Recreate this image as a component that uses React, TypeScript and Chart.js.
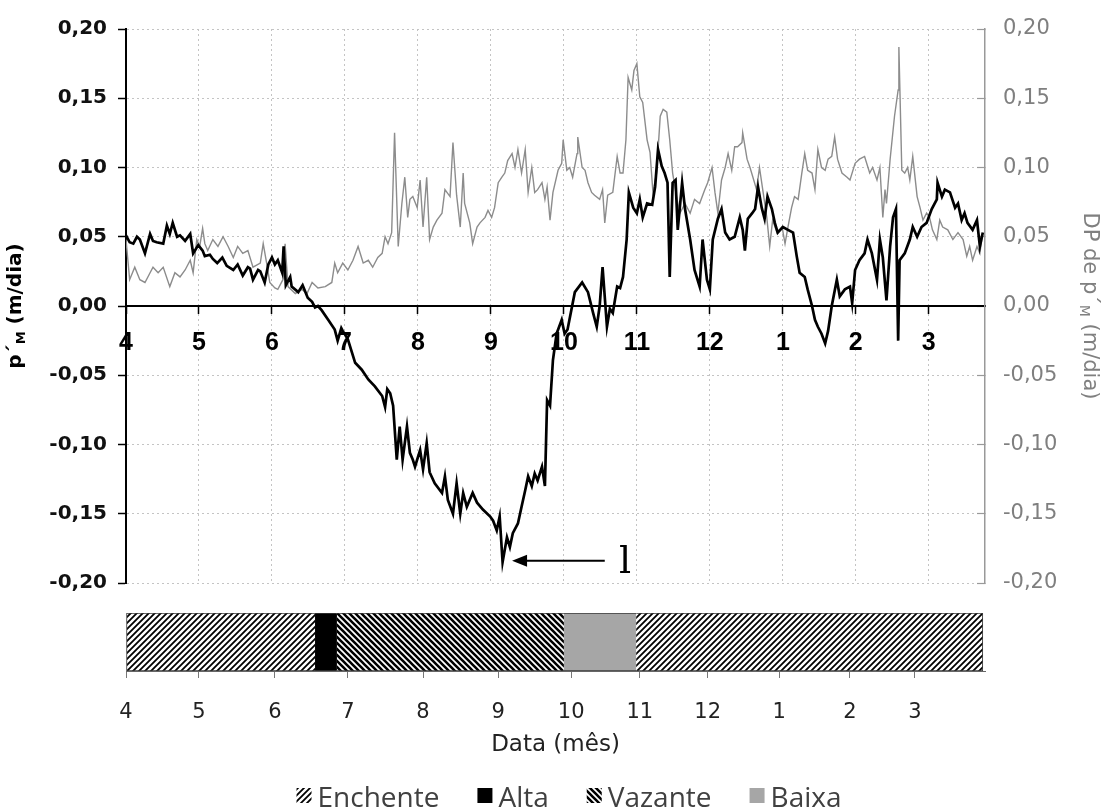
import React, { useEffect, useRef } from 'react';
import { Chart, registerables } from 'chart.js';

Chart.register(...registerables);

// ---------- data ----------
// x = months elapsed since the start of April (0 = "4"), y = m/dia
const monthLabels = ['4', '5', '6', '7', '8', '9', '10', '11', '12', '1', '2', '3'];
const X_MAX = 11.77;

// p'M (black line, left axis)
const pmSeries: [number, number][] = [
  [0.00, 0.051], [0.05, 0.046], [0.10, 0.045], [0.15, 0.050], [0.19, 0.048], [0.26, 0.038], [0.33, 0.052], [0.37, 0.047],
  [0.42, 0.046], [0.51, 0.045], [0.56, 0.058], [0.60, 0.052], [0.64, 0.060], [0.70, 0.050], [0.74, 0.051], [0.81, 0.047],
  [0.88, 0.052], [0.92, 0.038], [0.99, 0.044], [1.05, 0.040], [1.08, 0.036], [1.15, 0.037], [1.19, 0.034], [1.25, 0.031],
  [1.32, 0.035], [1.38, 0.029], [1.47, 0.026], [1.53, 0.030], [1.60, 0.022], [1.67, 0.028], [1.70, 0.027], [1.74, 0.019],
  [1.81, 0.026], [1.84, 0.025], [1.90, 0.017], [1.95, 0.030], [2.00, 0.035], [2.04, 0.030], [2.08, 0.033], [2.14, 0.024],
  [2.16, 0.043], [2.19, 0.015], [2.25, 0.021], [2.27, 0.014], [2.36, 0.010], [2.42, 0.015], [2.49, 0.006], [2.55, 0.003],
  [2.59, -0.001], [2.63, 0.000], [2.68, -0.003], [2.77, -0.010], [2.86, -0.017], [2.90, -0.025], [2.95, -0.016], [2.97, -0.018],
  [3.04, -0.024], [3.14, -0.041], [3.23, -0.046], [3.32, -0.053], [3.41, -0.058], [3.51, -0.065], [3.55, -0.073], [3.58, -0.060],
  [3.62, -0.063], [3.66, -0.072], [3.71, -0.111], [3.75, -0.087], [3.79, -0.111], [3.85, -0.087], [3.89, -0.106], [3.93, -0.111],
  [3.96, -0.116], [4.03, -0.104], [4.07, -0.118], [4.12, -0.099], [4.16, -0.120], [4.23, -0.128], [4.33, -0.135], [4.37, -0.123],
  [4.41, -0.140], [4.48, -0.150], [4.53, -0.128], [4.58, -0.150], [4.62, -0.135], [4.67, -0.145], [4.75, -0.135], [4.81, -0.142],
  [4.89, -0.147], [4.99, -0.152], [5.03, -0.155], [5.08, -0.162], [5.12, -0.152], [5.16, -0.185], [5.22, -0.167], [5.26, -0.174],
  [5.30, -0.164], [5.37, -0.157], [5.42, -0.145], [5.47, -0.133], [5.51, -0.123], [5.56, -0.130], [5.60, -0.121], [5.64, -0.126],
  [5.70, -0.116], [5.74, -0.130], [5.77, -0.068], [5.81, -0.072], [5.85, -0.039], [5.90, -0.020], [5.97, -0.010], [6.01, -0.020],
  [6.05, -0.017], [6.15, 0.010], [6.25, 0.017], [6.33, 0.010], [6.40, -0.005], [6.45, -0.015], [6.49, 0.000], [6.53, 0.028],
  [6.59, -0.015], [6.63, -0.002], [6.67, -0.005], [6.73, 0.014], [6.77, 0.013], [6.81, 0.021], [6.86, 0.048], [6.89, 0.082],
  [6.95, 0.071], [7.00, 0.067], [7.04, 0.077], [7.08, 0.064], [7.14, 0.074], [7.21, 0.073], [7.25, 0.086], [7.29, 0.113],
  [7.34, 0.101], [7.38, 0.096], [7.42, 0.089], [7.45, 0.021], [7.49, 0.089], [7.53, 0.091], [7.56, 0.055], [7.62, 0.089],
  [7.66, 0.070], [7.73, 0.048], [7.79, 0.026], [7.86, 0.014], [7.90, 0.048], [7.96, 0.019], [8.00, 0.012], [8.04, 0.048],
  [8.11, 0.063], [8.16, 0.070], [8.21, 0.053], [8.27, 0.048], [8.34, 0.050], [8.41, 0.064], [8.45, 0.055], [8.48, 0.040],
  [8.52, 0.063], [8.58, 0.067], [8.62, 0.070], [8.66, 0.086], [8.71, 0.071], [8.75, 0.063], [8.79, 0.079], [8.85, 0.070],
  [8.89, 0.060], [8.93, 0.053], [9.00, 0.057], [9.07, 0.055], [9.14, 0.053], [9.19, 0.036], [9.23, 0.024], [9.30, 0.021],
  [9.34, 0.012], [9.40, 0.000], [9.44, -0.010], [9.48, -0.015], [9.53, -0.020], [9.58, -0.027], [9.62, -0.018], [9.67, 0.000],
  [9.74, 0.019], [9.78, 0.007], [9.85, 0.012], [9.92, 0.014], [9.95, 0.002], [9.99, 0.026], [10.05, 0.033], [10.12, 0.038],
  [10.16, 0.048], [10.22, 0.038], [10.29, 0.019], [10.33, 0.048], [10.37, 0.035], [10.42, 0.004], [10.47, 0.043], [10.51, 0.064],
  [10.55, 0.070], [10.58, -0.025], [10.60, 0.033], [10.67, 0.038], [10.74, 0.048], [10.78, 0.057], [10.84, 0.050], [10.90, 0.057],
  [10.97, 0.060], [11.04, 0.070], [11.11, 0.077], [11.12, 0.089], [11.18, 0.079], [11.22, 0.084], [11.29, 0.082], [11.36, 0.071],
  [11.40, 0.074], [11.45, 0.062], [11.49, 0.067], [11.53, 0.060], [11.60, 0.055], [11.66, 0.062], [11.70, 0.043], [11.74, 0.053],
];

// DP de p'M (grey line, right axis)
const dpSeries: [number, number][] = [
  [0.00, 0.048], [0.05, 0.019], [0.12, 0.028], [0.19, 0.019], [0.26, 0.017], [0.33, 0.024], [0.37, 0.028], [0.44, 0.024],
  [0.51, 0.028], [0.60, 0.014], [0.67, 0.024], [0.74, 0.021], [0.81, 0.026], [0.88, 0.033], [0.92, 0.024], [0.97, 0.048],
  [1.01, 0.043], [1.05, 0.056], [1.08, 0.045], [1.12, 0.040], [1.19, 0.048], [1.26, 0.043], [1.33, 0.050], [1.40, 0.043],
  [1.47, 0.035], [1.53, 0.043], [1.60, 0.038], [1.67, 0.040], [1.74, 0.028], [1.84, 0.031], [1.88, 0.045], [1.93, 0.030],
  [1.97, 0.017], [2.04, 0.013], [2.08, 0.012], [2.15, 0.019], [2.18, 0.045], [2.22, 0.014], [2.32, 0.009], [2.41, 0.012],
  [2.48, 0.009], [2.55, 0.017], [2.63, 0.013], [2.73, 0.014], [2.82, 0.017], [2.86, 0.031], [2.90, 0.024], [2.97, 0.031],
  [3.04, 0.026], [3.11, 0.033], [3.18, 0.043], [3.25, 0.031], [3.32, 0.033], [3.38, 0.028], [3.45, 0.035], [3.51, 0.038],
  [3.55, 0.050], [3.59, 0.045], [3.64, 0.053], [3.68, 0.125], [3.73, 0.043], [3.78, 0.074], [3.82, 0.093], [3.86, 0.064],
  [3.89, 0.077], [3.93, 0.079], [3.99, 0.071], [4.03, 0.091], [4.07, 0.057], [4.12, 0.093], [4.16, 0.048], [4.21, 0.057],
  [4.26, 0.062], [4.33, 0.067], [4.37, 0.084], [4.44, 0.079], [4.48, 0.118], [4.53, 0.080], [4.58, 0.057], [4.62, 0.096],
  [4.64, 0.074], [4.71, 0.060], [4.75, 0.045], [4.81, 0.057], [4.85, 0.060], [4.92, 0.064], [4.96, 0.069], [5.01, 0.064],
  [5.05, 0.071], [5.10, 0.089], [5.15, 0.093], [5.19, 0.096], [5.23, 0.105], [5.29, 0.110], [5.33, 0.100], [5.37, 0.113],
  [5.42, 0.096], [5.47, 0.113], [5.51, 0.082], [5.56, 0.100], [5.60, 0.082], [5.64, 0.084], [5.70, 0.089], [5.74, 0.077],
  [5.77, 0.086], [5.81, 0.062], [5.85, 0.082], [5.92, 0.098], [5.97, 0.103], [5.99, 0.120], [6.04, 0.098], [6.08, 0.100],
  [6.12, 0.093], [6.18, 0.110], [6.19, 0.122], [6.25, 0.100], [6.29, 0.098], [6.33, 0.089], [6.38, 0.082], [6.42, 0.080],
  [6.49, 0.077], [6.53, 0.084], [6.56, 0.060], [6.60, 0.080], [6.67, 0.082], [6.73, 0.108], [6.77, 0.096], [6.81, 0.096],
  [6.85, 0.120], [6.88, 0.165], [6.93, 0.156], [6.96, 0.170], [7.00, 0.175], [7.04, 0.151], [7.08, 0.147], [7.14, 0.120],
  [7.18, 0.111], [7.22, 0.082], [7.27, 0.096], [7.32, 0.137], [7.36, 0.142], [7.41, 0.140], [7.45, 0.120], [7.49, 0.096],
  [7.55, 0.077], [7.59, 0.067], [7.66, 0.074], [7.73, 0.067], [7.79, 0.077], [7.86, 0.074], [7.93, 0.084], [7.97, 0.089],
  [8.03, 0.100], [8.07, 0.082], [8.11, 0.067], [8.16, 0.091], [8.21, 0.100], [8.25, 0.110], [8.30, 0.098], [8.34, 0.115],
  [8.38, 0.115], [8.44, 0.118], [8.45, 0.125], [8.51, 0.106], [8.55, 0.100], [8.59, 0.093], [8.64, 0.084], [8.68, 0.100],
  [8.73, 0.082], [8.78, 0.064], [8.82, 0.043], [8.86, 0.062], [8.92, 0.053], [8.99, 0.057], [9.03, 0.045], [9.07, 0.057],
  [9.12, 0.071], [9.16, 0.079], [9.21, 0.077], [9.26, 0.096], [9.30, 0.110], [9.34, 0.098], [9.40, 0.096], [9.44, 0.084],
  [9.48, 0.113], [9.53, 0.100], [9.58, 0.098], [9.62, 0.106], [9.67, 0.108], [9.71, 0.122], [9.75, 0.106], [9.81, 0.096],
  [9.88, 0.093], [9.92, 0.091], [9.99, 0.103], [10.05, 0.106], [10.12, 0.108], [10.19, 0.096], [10.23, 0.100], [10.29, 0.091],
  [10.33, 0.100], [10.37, 0.064], [10.40, 0.084], [10.42, 0.074], [10.47, 0.106], [10.53, 0.137], [10.58, 0.156], [10.59, 0.187],
  [10.63, 0.098], [10.67, 0.096], [10.71, 0.100], [10.74, 0.091], [10.78, 0.108], [10.84, 0.079], [10.88, 0.071], [10.92, 0.062],
  [10.97, 0.067], [11.01, 0.064], [11.05, 0.055], [11.11, 0.048], [11.15, 0.062], [11.19, 0.057], [11.26, 0.055], [11.33, 0.048],
  [11.40, 0.053], [11.47, 0.048], [11.52, 0.036], [11.56, 0.043], [11.60, 0.033], [11.66, 0.043], [11.70, 0.038], [11.73, 0.050],
];

// annotation (arrow pointing to the minimum)
const arrowTip: [number, number] = [5.29, -0.184];
const arrowTail: [number, number] = [6.56, -0.184];
const annotationPos: [number, number] = [6.84, -0.186];
const annotationText = 'l';

// hydrological phases (band under the chart)
const phaseLabels = ['Enchente', 'Alta', 'Vazante', 'Baixa', 'Enchente'];
const phaseStart = [0, 2.59, 2.89, 6.0, 6.99];
const phaseEnd = [2.59, 2.89, 6.0, 6.99, 11.74];
// positions of the month ticks on the band's axis
const bandTickPos = [0, 1.0, 2.04, 3.04, 4.07, 5.1, 6.1, 7.04, 7.97, 8.95, 9.92, 10.81];

// ---------- helpers ----------
const SANS = '"DejaVu Sans", Verdana, sans-serif';
const ARIAL = '"Liberation Sans", Arial, sans-serif';

const fmt = (v: number) => (Math.abs(v) < 1e-9 ? '0,00' : v.toFixed(2).replace('.', ','));

function makeHatch(dir: 1 | -1, size: number, lw: number): CanvasPattern | string {
  const c = document.createElement('canvas');
  c.width = size;
  c.height = size;
  const g = c.getContext('2d');
  if (!g) return '#888';
  g.fillStyle = '#fff';
  g.fillRect(0, 0, size, size);
  g.strokeStyle = '#000';
  g.lineWidth = lw;
  g.beginPath();
  if (dir === 1) {
    g.moveTo(0, size); g.lineTo(size, 0);
    g.moveTo(-2, 2); g.lineTo(2, -2);
    g.moveTo(size - 2, size + 2); g.lineTo(size + 2, size - 2);
  } else {
    g.moveTo(0, 0); g.lineTo(size, size);
    g.moveTo(-2, size - 2); g.lineTo(2, size + 2);
    g.moveTo(size - 2, -2); g.lineTo(size + 2, 2);
  }
  g.stroke();
  const p = g.createPattern(c, 'repeat');
  return p || '#888';
}

function drawRichTitle(
  ctx: CanvasRenderingContext2D,
  parts: { t: string; size: number; dy: number }[],
  cx: number, cy: number, rot: number, weight: string, color: string,
) {
  ctx.save();
  ctx.translate(cx, cy);
  ctx.rotate(rot);
  ctx.fillStyle = color;
  ctx.textBaseline = 'alphabetic';
  ctx.textAlign = 'left';
  const widths = parts.map((p) => {
    ctx.font = `${weight} ${p.size}px ${SANS}`;
    return ctx.measureText(p.t).width;
  });
  const total = widths.reduce((a, b) => a + b, 0);
  let x = -total / 2;
  parts.forEach((p, i) => {
    ctx.font = `${weight} ${p.size}px ${SANS}`;
    ctx.fillText(p.t, x, p.dy);
    x += widths[i];
  });
  ctx.restore();
}

const topDecor = {
  id: 'topDecor',
  afterDraw(chart: any) {
    const { ctx } = chart;
    const xs = chart.scales.x;
    const ys = chart.scales.y;
    ctx.save();
    // arrow
    const tx = xs.getPixelForValue(arrowTip[0]);
    const ty = ys.getPixelForValue(arrowTip[1]);
    const ex = xs.getPixelForValue(arrowTail[0]);
    ctx.strokeStyle = '#000';
    ctx.fillStyle = '#000';
    ctx.lineWidth = 2;
    ctx.beginPath();
    ctx.moveTo(tx + 12, ty);
    ctx.lineTo(ex, ty);
    ctx.stroke();
    ctx.beginPath();
    ctx.moveTo(tx, ty);
    ctx.lineTo(tx + 15, ty - 6);
    ctx.lineTo(tx + 15, ty + 6);
    ctx.closePath();
    ctx.fill();
    // annotation label
    ctx.font = '38px "DejaVu Serif", serif';
    ctx.textAlign = 'center';
    ctx.textBaseline = 'middle';
    ctx.fillText(annotationText, xs.getPixelForValue(annotationPos[0]), ys.getPixelForValue(annotationPos[1]));
    ctx.restore();

    const midY = (chart.chartArea.top + chart.chartArea.bottom) / 2;
    drawRichTitle(ctx, [
      { t: 'p´', size: 20, dy: 0 },
      { t: 'M', size: 13, dy: 4 },
      { t: ' (m/dia)', size: 20, dy: 0 },
    ], 21, midY, -Math.PI / 2, 'bold', '#000');
    drawRichTitle(ctx, [
      { t: 'DP de p´', size: 21, dy: 0 },
      { t: 'M', size: 14, dy: 4 },
      { t: ' (m/dia)', size: 21, dy: 0 },
    ], 1084, midY, Math.PI / 2, 'normal', '#808080');
  },
};

const phaseLegend = {
  id: 'phaseLegend',
  afterDraw(chart: any) {
    const { ctx } = chart;
    const items: { label: string; bg: any }[] = [];
    chart.data.datasets.forEach((ds: any) => {
      if (!items.find((it) => it.label === ds.label)) items.push({ label: ds.label, bg: ds.backgroundColor });
    });
    ctx.save();
    ctx.font = `28px "Open Sans", ${SANS}`;
    const box = 15;
    const gapText = 6;
    const gapItem = 38;
    const widths = items.map((it) => ctx.measureText(it.label).width);
    const total = widths.reduce((a, w) => a + box + gapText + w, 0) + gapItem * (items.length - 1);
    let x = 569 - total / 2;
    const base = chart.height - 4;
    items.forEach((it, i) => {
      ctx.fillStyle = it.bg;
      ctx.fillRect(x, base - 19, box, box);
      x += box + gapText;
      ctx.fillStyle = '#404040';
      ctx.textBaseline = 'alphabetic';
      ctx.textAlign = 'left';
      ctx.fillText(it.label, x, base);
      x += widths[i] + gapItem;
    });
    ctx.restore();
  },
};

const noVPad = (s: any) => { s.paddingTop = 0; s.paddingBottom = 0; };

export default function App() {
  const topRef = useRef<HTMLCanvasElement>(null);
  const bandRef = useRef<HTMLCanvasElement>(null);

  useEffect(() => {
    if (!topRef.current || !bandRef.current) return;
    const gridColor = '#c4c4c4';

    const top = new Chart(topRef.current, {
      type: 'line',
      data: {
        datasets: [
          {
            label: "p'M",
            data: pmSeries.map(([x, y]) => ({ x, y })),
            borderColor: '#000',
            borderWidth: 2.7,
            pointRadius: 0,
            tension: 0,
            fill: false,
            xAxisID: 'x',
            yAxisID: 'y',
          },
          {
            label: "DP de p'M",
            data: dpSeries.map(([x, y]) => ({ x, y })),
            borderColor: '#8c8c8c',
            borderWidth: 1.4,
            pointRadius: 0,
            tension: 0,
            fill: false,
            xAxisID: 'x',
            yAxisID: 'y2',
          },
        ],
      },
      options: {
        responsive: false,
        maintainAspectRatio: false,
        animation: false,
        devicePixelRatio: 1,
        events: [],
        layout: { padding: { left: 0, right: 0, top: 29, bottom: 17 } },
        plugins: { legend: { display: false }, tooltip: { enabled: false } },
        scales: {
          x: {
            type: 'linear',
            axis: 'x',
            position: { y: 0 } as any,
            min: 0,
            max: X_MAX,
            ticks: {
              stepSize: 1,
              includeBounds: false,
              autoSkip: false,
              maxRotation: 0,
              padding: 15,
              color: '#000',
              font: { family: ARIAL, size: 25, weight: 'bold' },
              callback: (v: any) => monthLabels[Math.round(Number(v))] ?? '',
            },
            grid: { color: gridColor, lineWidth: 1, tickColor: '#000', tickLength: 7, tickWidth: 1.5, drawTicks: true },
            border: { display: true, color: '#000', width: 2, dash: [2, 3] },
          } as any,
          y: {
            type: 'linear',
            position: 'left',
            min: -0.2,
            max: 0.2,
            afterFit: (s: any) => { s.width = 126; noVPad(s); },
            ticks: {
              stepSize: 0.05,
              padding: 11,
              color: '#111',
              font: { family: SANS, size: 20, weight: 'bold' },
              callback: (v: any) => fmt(Number(v)),
            },
            grid: { color: gridColor, lineWidth: 1, tickColor: '#000', tickLength: 8, tickWidth: 1.5 },
            border: { display: true, color: '#000', width: 2, dash: [2, 3] },
          } as any,
          y2: {
            type: 'linear',
            position: 'right',
            min: -0.2,
            max: 0.2,
            afterFit: (s: any) => { s.width = 120; noVPad(s); },
            ticks: {
              stepSize: 0.05,
              padding: 26,
              color: '#7f7f7f',
              font: { family: SANS, size: 21 },
              callback: (v: any) => fmt(Number(v)),
            },
            grid: { drawOnChartArea: false, tickColor: '#999', tickLength: -8, tickWidth: 1.2 },
            border: { display: true, color: '#999', width: 1.5 },
          } as any,
        },
      },
      plugins: [topDecor],
    });

    const enchente = makeHatch(1, 6, 1.8);
    const vazante = makeHatch(-1, 6, 2.6);
    const fills: Record<string, any> = { Enchente: enchente, Alta: '#000', Vazante: vazante, Baixa: '#a6a6a6' };
    const last = phaseLabels.length - 1;

    const band = new Chart(bandRef.current, {
      type: 'bar',
      data: {
        labels: ['fase'],
        datasets: phaseLabels.map((lab, i) => ({
          label: lab,
          data: [[phaseStart[i], phaseEnd[i]]],
          backgroundColor: fills[lab],
          borderColor: '#3a3a3a',
          borderWidth: { top: 1, bottom: 1, left: i === 0 ? 1 : 0, right: i === last ? 1 : 0 },
          borderSkipped: false,
          grouped: false,
          barPercentage: 1,
          categoryPercentage: 1,
        })) as any,
      },
      options: {
        indexAxis: 'y',
        responsive: false,
        maintainAspectRatio: false,
        animation: false,
        devicePixelRatio: 1,
        events: [],
        layout: { padding: { left: 126, right: 120, top: 13, bottom: 52 } },
        plugins: { legend: { display: false }, tooltip: { enabled: false } },
        scales: {
          x: {
            type: 'linear',
            position: 'bottom',
            min: 0,
            max: X_MAX,
            afterFit: (s: any) => { s.height = 88; },
            afterBuildTicks: (s: any) => { s.ticks = bandTickPos.map((v) => ({ value: v })); },
            ticks: {
              autoSkip: false,
              maxRotation: 0,
              padding: 22,
              color: '#222',
              font: { family: SANS, size: 21 },
              callback: (_v: any, i: number) => monthLabels[i] ?? '',
            },
            grid: { drawOnChartArea: false, drawTicks: true, tickLength: 7, tickColor: '#777', tickWidth: 1 },
            border: { display: true, color: '#666', width: 1 },
            title: {
              display: true,
              text: 'Data (mês)',
              color: '#222',
              font: { family: SANS, size: 23 },
              padding: { top: 0, bottom: 0 },
            },
          } as any,
          y: { type: 'category', display: false } as any,
        },
      },
      plugins: [phaseLegend],
    });

    return () => {
      top.destroy();
      band.destroy();
    };
  }, []);

  return (
    <div style={{ position: 'absolute', left: 0, top: 0, width: 1105, height: 811, background: '#fff', overflow: 'hidden' }}>
      <canvas ref={topRef} width={1105} height={600} style={{ position: 'absolute', left: 0, top: 0, width: 1105, height: 600 }} />
      <canvas ref={bandRef} width={1105} height={211} style={{ position: 'absolute', left: 0, top: 600, width: 1105, height: 211 }} />
    </div>
  );
}
